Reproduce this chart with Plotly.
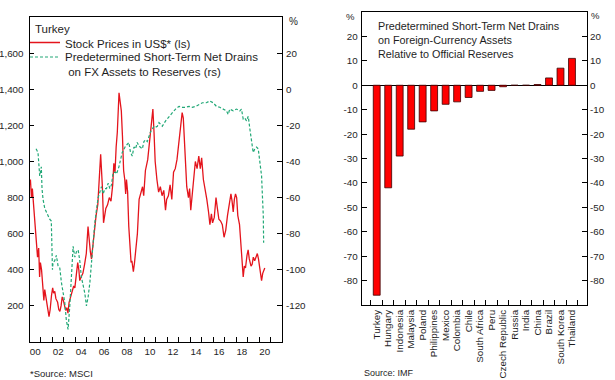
import plotly.graph_objects as go

# ---------------- Left panel data (Turkey) ----------------
stock_t = [2000.00, 2000.08, 2000.17, 2000.25, 2000.33, 2000.50, 2000.60, 2000.70, 2000.80, 2000.88,
           2000.95, 2001.05, 2001.17, 2001.25, 2001.33, 2001.42, 2001.55, 2001.70, 2001.80, 2001.92,
           2002.02, 2002.10, 2002.20, 2002.30, 2002.45, 2002.55, 2002.65, 2002.75, 2002.85, 2002.95,
           2003.05, 2003.15, 2003.25, 2003.35, 2003.45, 2003.55, 2003.70, 2003.85, 2003.95, 2004.10,
           2004.20, 2004.30, 2004.38, 2004.50, 2004.65, 2004.80, 2004.95, 2005.10, 2005.20, 2005.30,
           2005.40, 2005.55, 2005.70, 2005.80, 2005.95, 2006.10, 2006.20, 2006.35, 2006.45, 2006.55,
           2006.65, 2006.80, 2006.95, 2007.10, 2007.25, 2007.35, 2007.45, 2007.55, 2007.65, 2007.80,
           2007.90, 2008.00, 2008.10, 2008.20, 2008.30, 2008.38, 2008.45, 2008.55, 2008.65, 2008.75,
           2008.85, 2008.92, 2009.05, 2009.15, 2009.25, 2009.40, 2009.55, 2009.70, 2009.85, 2009.95,
           2010.10, 2010.30, 2010.45, 2010.60, 2010.75, 2010.85, 2010.95, 2011.10, 2011.25, 2011.40,
           2011.55, 2011.70, 2011.85, 2011.95, 2012.10, 2012.25, 2012.40, 2012.55, 2012.70, 2012.85,
           2013.00, 2013.15, 2013.30, 2013.40, 2013.48, 2013.58, 2013.70, 2013.85, 2013.95, 2014.05,
           2014.15, 2014.30, 2014.45, 2014.60, 2014.75, 2014.88, 2015.00, 2015.15, 2015.30, 2015.45,
           2015.60, 2015.72, 2015.85, 2015.95, 2016.10, 2016.25, 2016.35, 2016.50, 2016.65, 2016.80,
           2016.95, 2017.10, 2017.25, 2017.40, 2017.55, 2017.65, 2017.75, 2017.85, 2017.95, 2018.05,
           2018.15, 2018.30, 2018.42, 2018.52, 2018.62, 2018.72, 2018.82, 2018.95, 2019.05, 2019.15,
           2019.30, 2019.40, 2019.50, 2019.62, 2019.75, 2019.85, 2019.95, 2020.05, 2020.15, 2020.22,
           2020.32, 2020.42, 2020.50]
stock_v = [870, 900, 800, 850, 780, 650, 565, 470, 520, 360,
           440, 400, 300, 230, 290, 240, 200, 140, 180, 260,
           300, 270, 280, 240, 220, 180, 170, 200, 250, 230,
           200, 175, 190, 160, 220, 240, 270, 310, 300, 400,
           440, 400, 340, 360, 380, 430, 490, 640, 560, 500,
           460, 560, 620, 700, 760, 900, 1040, 860, 660, 700,
           740, 760, 800, 780, 870, 990, 940, 1080, 1160, 1380,
           1330, 1280, 1140, 950, 900, 820, 900, 830, 640, 500,
           440, 450, 390, 440, 510, 600, 790, 830, 860, 810,
           950, 1010, 1100, 1200, 1290, 1160, 1000, 900, 830, 860,
           810, 840, 730, 790, 810, 870, 790, 940, 960, 1010,
           1100, 1200, 1270, 1240, 1150, 980, 860, 800, 850, 730,
           800, 900, 1000, 960, 1030, 960, 1020, 900, 850, 790,
           720, 650, 710, 660, 690, 800, 750, 680, 670, 650,
           580, 620, 700, 760, 820, 780, 720, 790, 820, 800,
           700, 650, 540, 470, 360, 420, 410, 480, 510, 460,
           420, 430, 470, 450, 480, 490, 460, 410, 370, 340,
           380, 400, 410]

drain_t = [2000.57, 2000.74, 2000.89, 2001.03, 2001.09, 2001.18, 2001.33, 2001.47, 2001.76, 2001.90,
           2002.00, 2002.05, 2002.20, 2002.34, 2002.49, 2002.64, 2002.78, 2002.93, 2003.07, 2003.21,
           2003.36, 2003.51, 2003.65, 2003.80, 2003.95, 2004.09, 2004.24, 2004.38, 2004.52, 2004.67,
           2004.82, 2004.96, 2005.11, 2005.26, 2005.40, 2005.55, 2005.69, 2005.83, 2005.98, 2006.13,
           2006.27, 2006.42, 2006.57, 2006.71, 2006.86, 2007.00, 2007.14, 2007.29, 2007.49, 2007.58,
           2007.79, 2008.08, 2008.37, 2008.66, 2008.80, 2008.95, 2009.10, 2009.24, 2009.39, 2009.54,
           2009.83, 2009.97, 2010.11, 2010.26, 2010.41, 2010.55, 2010.70, 2010.85, 2010.99, 2011.14,
           2011.28, 2011.57, 2011.86, 2012.16, 2012.45, 2012.73, 2013.03, 2013.32, 2013.61, 2013.90,
           2014.19, 2014.48, 2014.78, 2015.07, 2015.41, 2015.70, 2016.00, 2016.29, 2016.58, 2016.87,
           2017.16, 2017.31, 2017.45, 2017.75, 2018.03, 2018.32, 2018.47, 2018.62, 2018.76, 2018.91,
           2019.06, 2019.20, 2019.34, 2019.49, 2019.63, 2019.78, 2019.93, 2020.07, 2020.22, 2020.30,
           2020.37, 2020.40]
drain_v = [-33, -35, -48, -43, -55, -61, -66, -68, -72, -73,
           -100, -96, -95, -92, -98, -99, -107, -113, -118, -128,
           -133, -120, -100, -87, -93, -90, -89, -95, -104, -109,
           -113, -120, -115, -107, -96, -83, -74, -67, -60, -57,
           -54, -58, -55, -55, -52, -55, -53, -46, -46, -47,
           -43, -35, -31.5, -29.5, -35, -37, -32, -33, -29.5, -31.5,
           -33, -29, -28, -29, -26, -23.5, -22, -20.5, -21, -20.5,
           -18.5, -20.5, -17.5, -15.5, -13, -11, -9.5, -10, -10, -9.5,
           -10, -9.5, -8.5, -7.5, -7.5, -6.5, -7.5, -9.5, -10, -11,
           -12, -14, -11, -12, -11, -12, -11, -16.5, -16, -17.5,
           -15, -22, -28, -35, -33, -32, -33, -39, -48, -60,
           -70, -85]

year_tick_labels = ["00", "02", "04", "06", "08", "10", "12", "14", "16", "18", "20"]
year_label_pos = [2000.5 + 2 * i for i in range(len(year_tick_labels))]
year_boundaries = list(range(2001, 2022))
left_ticks = [200, 400, 600, 800, 1000, 1200, 1400, 1600]
left_tick_text = ["200", "400", "600", "800", "1,000", "1,200", "1,400", "1,600"]
right_ticks = [-120, -100, -80, -60, -40, -20, 0, 20]
right_tick_text = ["-120", "-100", "-80", "-60", "-40", "-20", "0", "20"]

# ---------------- Right panel data ----------------
countries = ["Turkey", "Hungary", "Indonesia", "Malaysia", "Poland", "Philippines", "Mexico",
             "Colombia", "Chile", "South Africa", "Peru", "Czech Republic", "Russia", "India",
             "China", "Brazil", "South Korea", "Thailand"]
drain_ratio = [-86, -42, -29, -18, -15, -10.5, -7.8, -6.8, -5, -2.5, -2.1, -0.6, 0, 0,
               0.3, 3, 7, 11]
bar_ticks = [-80, -70, -60, -50, -40, -30, -20, -10, 0, 10, 20]
bar_tick_text = ["-80", "-70", "-60", "-50", "-40", "-30", "-20", "-10", "0", "10", "20"]

RED = "#e4141c"
GREEN = "#22a877"
TXT = "#1e1e1e"
FONT = "Liberation Sans, Arial, sans-serif"
W, H = 615, 380
TICK = 9.8

fig = go.Figure()
fig.add_trace(go.Scatter(x=stock_t, y=stock_v, mode="lines", name="Stock Prices in US$* (ls)",
                         line=dict(color=RED, width=1.3), xaxis="x", yaxis="y", legend="legend"))
fig.add_trace(go.Scatter(x=drain_t, y=drain_v, mode="lines",
                         name="Predetermined Short-Term Net Drains<br> on FX Assets to Reserves (rs)",
                         line=dict(color=GREEN, width=1.2, dash="3px,2px"), xaxis="x", yaxis="y2",
                         legend="legend2"))
fig.add_trace(go.Bar(x=countries, y=drain_ratio, width=0.6, showlegend=False,
                     marker=dict(color="#ff0000", line=dict(color="#3a0000", width=0.8)),
                     xaxis="x3", yaxis="y3"))
fig.add_trace(go.Scatter(x=countries, y=drain_ratio, mode="markers", marker=dict(opacity=0),
                         showlegend=False, hoverinfo="skip", xaxis="x3", yaxis="y4"))

axis_common = dict(showline=True, linecolor="black", linewidth=1, showgrid=False, zeroline=False,
                   tickcolor="black", tickfont=dict(size=TICK, color=TXT, family=FONT))
leg_common = dict(xanchor="left", bgcolor="rgba(0,0,0,0)", borderwidth=0, valign="top",
                  font=dict(size=11.5, color=TXT, family=FONT))

fig.update_layout(
    width=W, height=H, margin=dict(l=0, r=0, t=0, b=0),
    paper_bgcolor="white", plot_bgcolor="white",
    font=dict(family=FONT, color=TXT),
    showlegend=True,
    legend=dict(leg_common, x=25 / W, y=1 - 43 / H, yanchor="middle"),
    legend2=dict(leg_common, x=25 / W, y=1 - 43 / H, yanchor="top"),
    xaxis=dict(axis_common, domain=[29.5 / W, 282 / W], range=[2000, 2022], anchor="y",
               tickmode="array", tickvals=year_label_pos, ticktext=year_tick_labels, ticks="",
               minor=dict(tickvals=year_boundaries, ticks="inside", ticklen=5, tickcolor="black"),
               mirror=True),
    yaxis=dict(axis_common, domain=[1 - 342 / H, 1 - 17 / H], range=[0, 1800], anchor="x",
               tickmode="array", tickvals=left_ticks, ticktext=left_tick_text,
               ticks="inside", ticklen=4, ticklabelstandoff=3, mirror=True),
    yaxis2=dict(axis_common, overlaying="y", side="right", range=[-140, 40], anchor="x",
                tickmode="array", tickvals=right_ticks, ticktext=right_tick_text,
                ticks="inside", ticklen=5, ticklabelstandoff=1),
    xaxis3=dict(axis_common, domain=[361.7 / W, 587 / W], anchor="y3", type="category",
                tickmode="array", tickvals=countries, ticktext=countries,
                tickangle=-90, ticks="inside", tickson="boundaries", ticklen=5, mirror=True),
    yaxis3=dict(axis_common, domain=[1 - 305 / H, 1 - 12 / H], range=[-90, 30], anchor="x3",
                tickmode="array", tickvals=bar_ticks, ticktext=bar_tick_text,
                ticks="inside", ticklen=5, ticklabelstandoff=1, mirror=True,
                zeroline=True, zerolinecolor="black", zerolinewidth=1),
    yaxis4=dict(axis_common, overlaying="y3", side="right", range=[-90, 30], anchor="x3",
                tickmode="array", tickvals=bar_ticks, ticktext=bar_tick_text,
                ticks="inside", ticklen=5, ticklabelstandoff=0),
)

ann_font = dict(family=FONT, color=TXT)
annotations = [
    dict(text="Turkey", x=33 / W, y=1 - 29 / H, xanchor="left", yanchor="middle",
         font=dict(ann_font, size=11.5)),
    dict(text="%", x=287 / W, y=1 - 22 / H, xanchor="left", yanchor="middle",
         font=dict(ann_font, size=10)),
    dict(text="%", x=357 / W, y=1 - 16 / H, xanchor="right", yanchor="middle",
         font=dict(ann_font, size=9.5)),
    dict(text="%", x=589 / W, y=1 - 15 / H, xanchor="left", yanchor="middle",
         font=dict(ann_font, size=9.5)),
    dict(text="Predetermined Short-Term Net Drains<br>on Foreign-Currency Assets<br>Relative to Official Reserves",
         x=376 / W, y=1 - 18 / H, xanchor="left", yanchor="top", align="left",
         font=dict(ann_font, size=10.8)),
    dict(text="*Source: MSCI", x=28 / W, y=1 - 373 / H, xanchor="left", yanchor="middle",
         font=dict(ann_font, size=9.5)),
    dict(text="Source: IMF", x=362 / W, y=1 - 373 / H, xanchor="left", yanchor="middle",
         font=dict(ann_font, size=9)),
]
for a in annotations:
    a.update(xref="paper", yref="paper", showarrow=False)
fig.update_layout(annotations=annotations)

fig.write_html("out.html", config={"displayModeBar": False},
               post_script="document.body.style.margin='0px';document.body.style.padding='0px';")
